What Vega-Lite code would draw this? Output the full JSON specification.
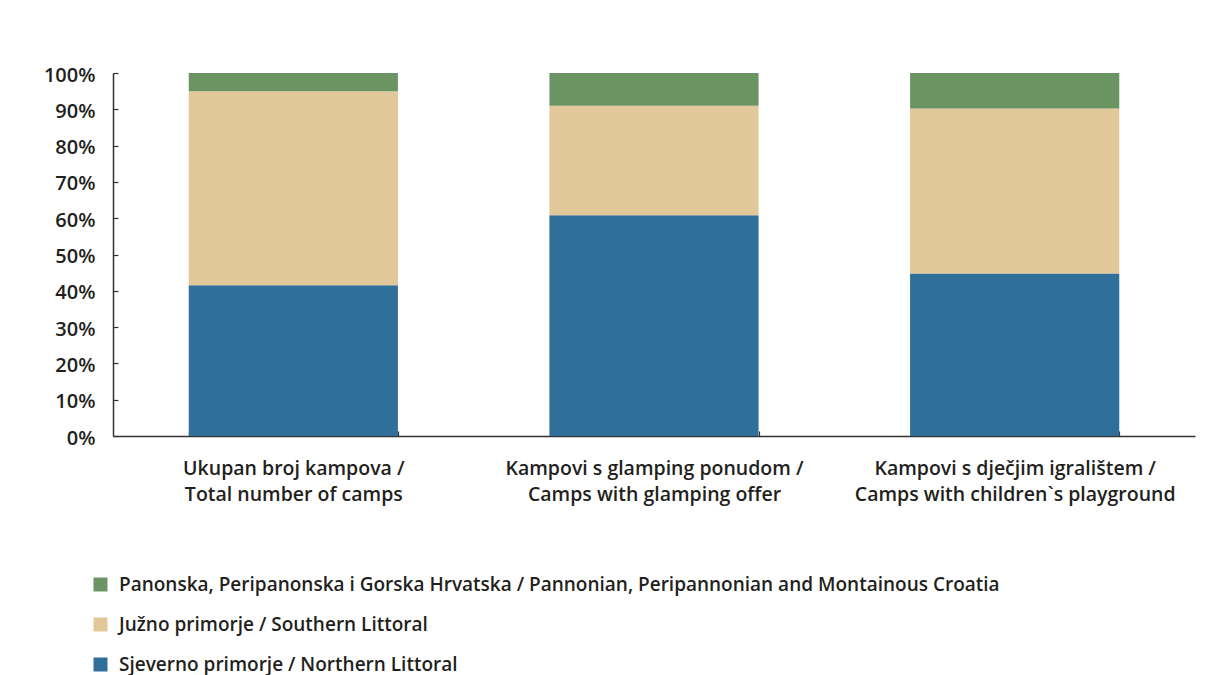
{
  "$schema": "https://vega.github.io/schema/vega-lite/v6.json",
  "width": 1082,
  "height": 363,
  "autosize": {"type": "none"},
  "padding": {"left": 113, "top": 73, "right": 10, "bottom": 239},
  "background": "white",
  "config": {
    "view": {"stroke": null},
    "font": "Open Sans"
  },
  "data": {
    "values": [
      {"category": "Ukupan broj kampova / Total number of camps", "region": "Sjeverno primorje / Northern Littoral", "k": 1, "share": 0.415},
      {"category": "Ukupan broj kampova / Total number of camps", "region": "Južno primorje / Southern Littoral", "k": 2, "share": 0.535},
      {"category": "Ukupan broj kampova / Total number of camps", "region": "Panonska, Peripanonska i Gorska Hrvatska / Pannonian, Peripannonian and Montainous Croatia", "k": 3, "share": 0.05},
      {"category": "Kampovi s glamping ponudom / Camps with glamping offer", "region": "Sjeverno primorje / Northern Littoral", "k": 1, "share": 0.608},
      {"category": "Kampovi s glamping ponudom / Camps with glamping offer", "region": "Južno primorje / Southern Littoral", "k": 2, "share": 0.302},
      {"category": "Kampovi s glamping ponudom / Camps with glamping offer", "region": "Panonska, Peripanonska i Gorska Hrvatska / Pannonian, Peripannonian and Montainous Croatia", "k": 3, "share": 0.09},
      {"category": "Kampovi s dječjim igralištem / Camps with children`s playground", "region": "Sjeverno primorje / Northern Littoral", "k": 1, "share": 0.448},
      {"category": "Kampovi s dječjim igralištem / Camps with children`s playground", "region": "Južno primorje / Southern Littoral", "k": 2, "share": 0.454},
      {"category": "Kampovi s dječjim igralištem / Camps with children`s playground", "region": "Panonska, Peripanonska i Gorska Hrvatska / Pannonian, Peripannonian and Montainous Croatia", "k": 3, "share": 0.098}
    ]
  },
  "mark": {"type": "bar"},
  "encoding": {
    "x": {
      "field": "category",
      "type": "nominal",
      "sort": null,
      "scale": {"paddingInner": 0.42, "paddingOuter": 0.21},
      "axis": {
        "title": null,
        "labelAngle": 0,
        "labelExpr": "length(datum.label || '') > 0 ? [split(datum.label, ' / ')[0] + ' /', split(datum.label, ' / ')[1]] : ''",
        "labelFont": "Open Sans",
        "labelFontWeight": 600,
        "labelFontSize": 19.5,
        "labelColor": "#231f20",
        "labelLineHeight": 26,
        "labelPadding": 28,
        "labelBaseline": "top",
        "tickBand": "extent",
        "tickSize": -5,
        "tickColor": "#333333",
        "tickWidth": 1.2,
        "domainColor": "#333333",
        "domainWidth": 1.5,
        "labelLimit": 0
      }
    },
    "y": {
      "field": "share",
      "type": "quantitative",
      "stack": "zero",
      "scale": {"domain": [0, 1], "nice": false},
      "axis": {
        "title": null,
        "format": ".0%",
        "values": [0, 0.1, 0.2, 0.3, 0.4, 0.5, 0.6, 0.7, 0.8, 0.9, 1],
        "grid": false,
        "labelFont": "Open Sans",
        "labelFontWeight": 600,
        "labelFontSize": 20,
        "labelColor": "#231f20",
        "labelPadding": 23,
        "labelOffset": 2,
        "tickSize": -5,
        "tickColor": "#333333",
        "tickWidth": 1.2,
        "domainColor": "#333333",
        "domainWidth": 1.5
      }
    },
    "color": {
      "field": "region",
      "type": "nominal",
      "scale": {
        "domain": [
          "Panonska, Peripanonska i Gorska Hrvatska / Pannonian, Peripannonian and Montainous Croatia",
          "Južno primorje / Southern Littoral",
          "Sjeverno primorje / Northern Littoral"
        ],
        "range": ["#6a9563", "#e2c799", "#316f9b"]
      },
      "legend": {
        "title": null,
        "orient": "none",
        "legendX": -22,
        "legendY": 502,
        "padding": 0,
        "symbolType": "square",
        "symbolSize": 196,
        "symbolStrokeWidth": 0,
        "labelFont": "Open Sans",
        "labelFontWeight": 600,
        "labelFontSize": 19,
        "labelColor": "#231f20",
        "labelLimit": 0,
        "labelOffset": 9,
        "rowPadding": 20
      }
    },
    "order": {"field": "k", "type": "quantitative", "sort": "ascending"}
  }
}
